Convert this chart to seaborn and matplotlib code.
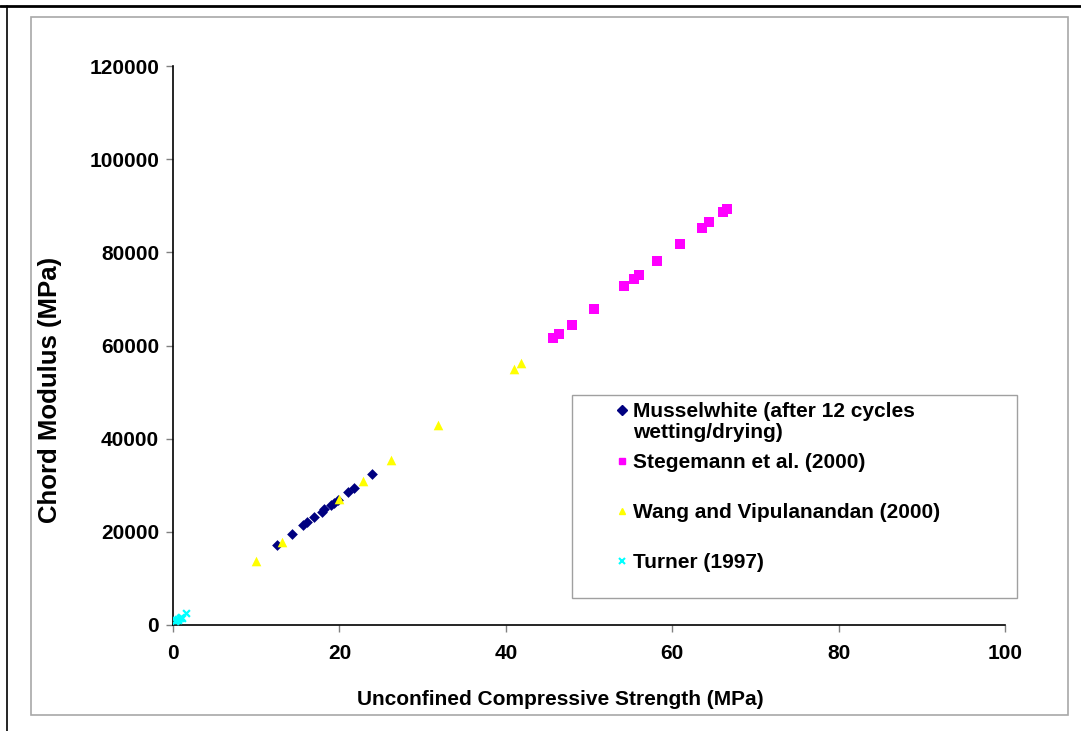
import matplotlib
matplotlib.use("Agg")
import matplotlib.pyplot as plt
from matplotlib.lines import Line2D
from matplotlib.patches import Rectangle
import seaborn as sns
import pandas as pd

# ---- data ----
musselwhite_x = [12.46, 14.34, 15.66, 16.07, 16.91, 17.87, 18.19, 18.99, 19.35, 19.83, 21.03, 21.72, 23.92]
musselwhite_y = [17174, 19599, 21467, 22051, 23120, 24322, 24838, 25760, 26254, 26834, 28487, 29474, 32415]

stegemann_x = [45.71, 46.43, 47.92, 50.56, 54.24, 55.37, 55.97, 58.17, 60.90, 63.58, 64.39, 66.14, 66.62]
stegemann_y = [61675, 62469, 64401, 67900, 72773, 74276, 75199, 78140, 81725, 85224, 86447, 88723, 89303]

wang_x = [9.98, 13.14, 19.99, 22.84, 26.20, 31.85, 41.00, 41.80]
wang_y = [13803, 17882, 27048, 30912, 35420, 42870, 55020, 56180]

turner_x = [0.24, 0.40, 0.55, 0.64, 0.80, 0.92, 1.05, 1.56]
turner_y = [860, 1050, 1150, 1224, 1400, 1653, 1500, 2512]

series_names = ["Musselwhite (after 12 cycles\nwetting/drying)",
                "Stegemann et al. (2000)",
                "Wang and Vipulanandan (2000)",
                "Turner (1997)"]

x_ticks = [0, 20, 40, 60, 80, 100]
y_ticks = [0, 20000, 40000, 60000, 80000, 100000, 120000]

x_label = "Unconfined Compressive Strength (MPa)"
y_label = "Chord Modulus (MPa)"

# ---- styling ----
sns.set_theme(style="white")
plt.rcParams['font.family'] = ['Liberation Sans', 'DejaVu Sans']
plt.rcParams['font.weight'] = 'bold'
plt.rcParams['text.color'] = 'black'
plt.rcParams['axes.labelcolor'] = 'black'
plt.rcParams['xtick.color'] = 'black'
plt.rcParams['ytick.color'] = 'black'

FS = 15

W, H = 1081, 731
fig = plt.figure(figsize=(W / 100, H / 100), dpi=100)
fig.patch.set_facecolor("white")

ax = fig.add_axes([173 / W, 1 - 625 / H, (1005 - 173) / W, (625 - 66) / H])
ax.set_facecolor("white")

styles = [
    (musselwhite_x, musselwhite_y, "#000080", "D", 30, 0.0),
    (stegemann_x, stegemann_y, "#FF00FF", "s", 42, 0.0),
    (wang_x, wang_y, "#FFFF00", "^", 48, 0.0),
    (turner_x, turner_y, "#00FFFF", "x", 24, 1.6),
]

for (xs, ys, col, mk, s, lw), name in zip(styles, series_names):
    df = pd.DataFrame({"x": xs, "y": ys})
    sns.scatterplot(data=df, x="x", y="y", ax=ax, color=col, marker=mk, s=s,
                    linewidth=lw, edgecolor=col if mk != "x" else None,
                    legend=False, zorder=3)

ax.set_xlim(0, 100)
ax.set_ylim(0, 120000)
ax.set_xticks(x_ticks)
ax.set_yticks(y_ticks)
ax.set_xticklabels([str(t) for t in x_ticks], fontsize=FS, fontweight='bold')
ax.set_yticklabels([str(t) for t in y_ticks], fontsize=FS, fontweight='bold')
ax.tick_params(axis='both', direction='out', length=5, width=1, color='#808080',
               labelcolor='black', bottom=True, left=True)
ax.tick_params(axis='x', pad=9)
ax.tick_params(axis='y', pad=5)

for sp in ["top", "right"]:
    ax.spines[sp].set_visible(False)
for sp in ["left", "bottom"]:
    ax.spines[sp].set_color("black")
    ax.spines[sp].set_linewidth(1.2)

ax.set_xlabel(x_label, fontsize=FS, fontweight='bold', color='black')
ax.set_ylabel(y_label, fontsize=18.5, fontweight='bold', color='black')
ax.xaxis.set_label_coords((560 - 173) / 832, -(690 - 625) / 559)
ax.yaxis.set_label_coords(-(173 - 62) / 832, (625 - 390) / 559)

# legend frame
ax.add_patch(Rectangle((572 / W, 1 - 598 / H), (1017 - 572) / W, (598 - 395) / H,
                       transform=fig.transFigure, facecolor="white", edgecolor="#a0a0a0",
                       linewidth=1.0, clip_on=False, zorder=4))

handles = []
for (xs, ys, col, mk, s, lw), name in zip(styles, series_names):
    if mk == "x":
        h = Line2D([], [], linestyle='none', marker=mk, color=col, markersize=4.5, markeredgewidth=1.5)
    else:
        h = Line2D([], [], linestyle='none', marker=mk, color=col, markeredgecolor=col,
                   markersize=5)
    handles.append(h)

common = dict(loc="upper left", bbox_transform=fig.transFigure, frameon=False,
              prop={'weight': 'bold', 'size': FS}, borderpad=0.0, borderaxespad=0.0,
              handlelength=1.0, handletextpad=0.0, labelspacing=1.49, labelcolor='black')

first_lines = series_names[0].split("\n")
leg1 = ax.legend(handles[:1], [first_lines[0]], bbox_to_anchor=(612 / W, 1 - 402 / H), **common)
leg1.set_zorder(6)
ax.add_artist(leg1)
for k, line in enumerate(first_lines[1:], start=1):
    ax.text(633 / W, 1 - (410 + 22 * k) / H, line, transform=fig.transFigure,
            fontsize=FS, fontweight='bold', va='center', ha='left', color='black', zorder=6)
leg2 = ax.legend(handles[1:], series_names[1:], bbox_to_anchor=(612 / W, 1 - 453 / H), **common)
leg2.set_zorder(6)

# outer chart frame (grey) and page lines (black)
fig.add_artist(Rectangle((31 / W, 1 - 715 / H), (1068 - 31) / W, (715 - 17) / H,
                         transform=fig.transFigure, fill=False, edgecolor="#a8a8a8", linewidth=1.2))
fig.add_artist(Line2D([0, 1], [1 - 6 / H, 1 - 6 / H], transform=fig.transFigure, color="black", linewidth=2))
fig.add_artist(Line2D([7 / W, 7 / W], [0, 1 - 6 / H], transform=fig.transFigure, color="black", linewidth=1.2))

fig.savefig("out.png", dpi=100, facecolor="white")
